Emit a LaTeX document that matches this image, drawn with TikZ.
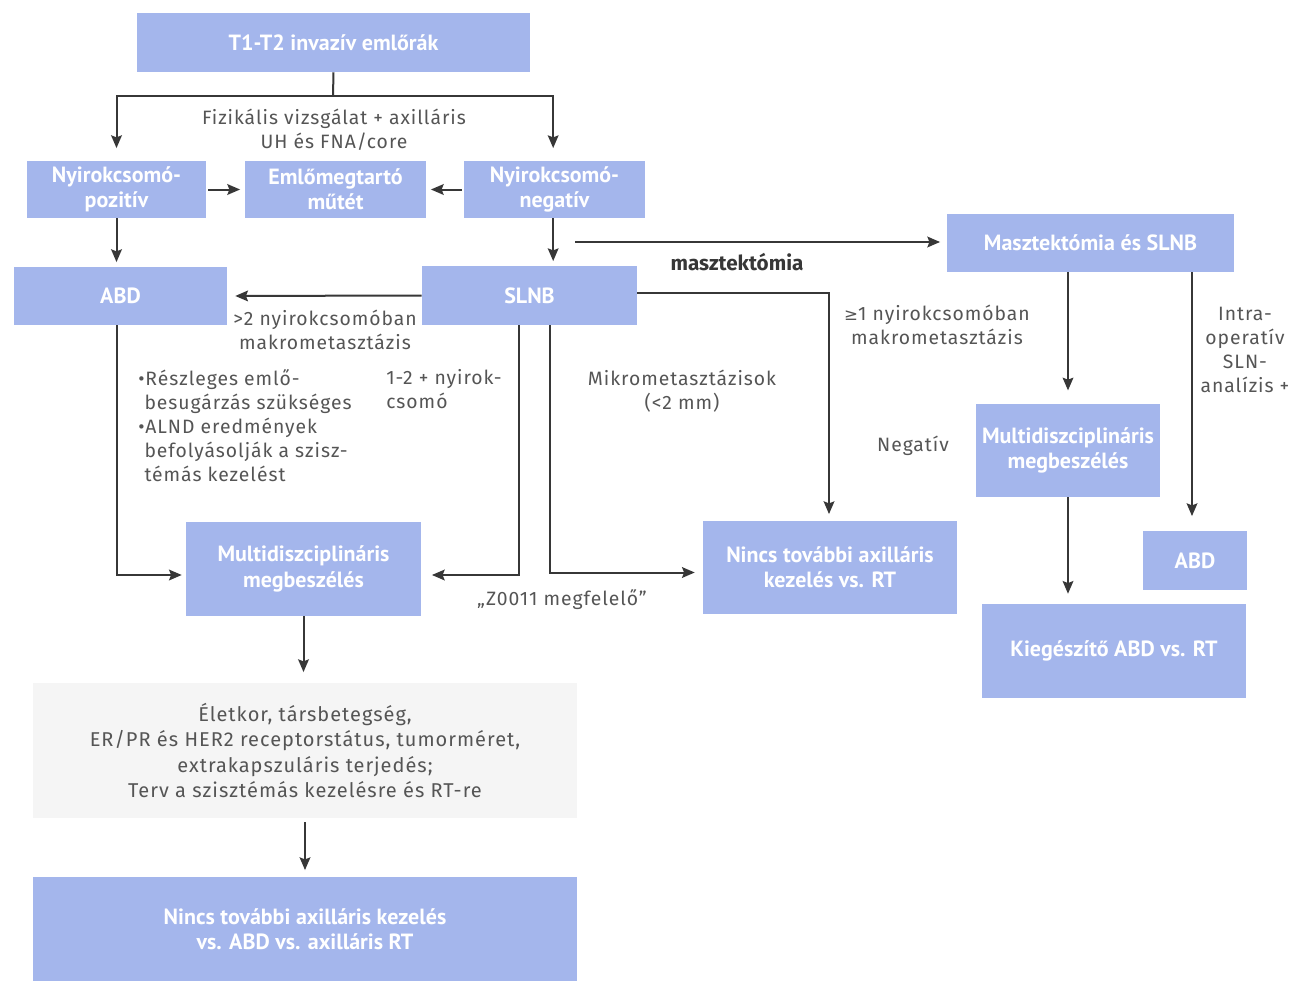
\documentclass[tikz,border=0pt]{standalone}
\usepackage{fontspec}
\setmainfont{Fira Sans}
\newfontfamily\lblfont[LetterSpace=5]{Fira Sans}
\newfontfamily\boxfont{PT Sans}
\newfontfamily\symfont{DejaVu Sans}
\usetikzlibrary{arrows.meta}
\definecolor{boxblue}{RGB}{164,182,236}
\definecolor{palegray}{RGB}{245,245,245}
\definecolor{linecol}{RGB}{55,55,55}
\definecolor{txtcol}{RGB}{85,85,85}
\begin{document}
\begin{tikzpicture}[x=0.75pt,y=-0.75pt,
  bx/.style 2 args={minimum width=#1*0.75pt, minimum height=#2*0.75pt},
  box/.style={fill=boxblue, text=white, inner sep=0pt, align=center,
    font=\boxfont\fontsize{16.5}{19}\selectfont\bfseries},
  graybox/.style={fill=palegray, text=txtcol, inner sep=0pt, align=center,
    font=\lblfont\fontsize{15}{19}\selectfont},
  lbl/.style={text=txtcol, inner sep=0pt, font=\lblfont\fontsize{14.5}{18}\selectfont},
  conn/.style={draw=linecol, line width=1.5pt},
  arr/.style={conn, -{Stealth[length=9.5pt,width=8pt,inset=1.5pt]}},
]
\useasboundingbox (0,0) rectangle (1300,981);
\fill[white] (0,0) rectangle (1300,981);

% boxes
\node[box, bx={393}{59}] (t1) at (333.5,42.5) {T1-T2 invazív emlőrák};
\node[box, bx={179}{57}] (pos) at (116.5,189.5) {Nyirokcsomó-\\pozitív};
\node[box, bx={181}{57}] (bct) at (335.5,189.5) {Emlőmegtartó\\műtét};
\node[box, bx={181}{57}] (neg) at (554.5,189.5) {Nyirokcsomó-\\negatív};
\node[box, bx={213}{58}] (abd) at (120.5,296) {ABD};
\node[box, bx={215}{59}] (slnb) at (529.5,295.5) {SLNB};
\node[box, bx={287}{58}] (mast) at (1090.5,243) {Masztektómia és SLNB};
\node[box, bx={184}{93}] (multiR) at (1068,450.5) {Multidiszciplináris\\megbeszélés};
\node[box, bx={104}{59}] (abdR) at (1195,560.5) {ABD};
\node[box, bx={264}{94}] (kieg) at (1114,651) {Kiegészítő ABD vs. RT};
\node[box, bx={254}{93}] (nincsR) at (830,567.5) {Nincs további axilláris\\kezelés vs. RT};
\node[box, bx={235}{94}] (multiL) at (303.5,569) {Multidiszciplináris\\megbeszélés};
\node[graybox, bx={544}{135}] (elet) at (305,750.5) {Életkor, társbetegség,\\ER/PR és HER2 receptorstátus, tumorméret,\\extrakapszuláris terjedés;\\Terv a szisztémás kezelésre és RT-re};
\node[box, bx={544}{104}] (final) at (305,929) {Nincs további axilláris kezelés\\vs. ABD vs. axilláris RT};

% connectors
\coordinate (j) at (333,96);
\draw[conn] (t1.south) -- (j);
\draw[arr, shorten >=9.5pt] (j) -| (pos.north);
\draw[arr, shorten >=9.5pt] (j) -| ([xshift=-1pt]neg.north);
\draw[arr, shorten <=1.5pt, shorten >=3.5pt] (pos.east) -- (bct.west);
\draw[arr, shorten <=1.5pt, shorten >=3.5pt] (neg.west) -- (bct.east);
\draw[arr, shorten >=3.5pt] (pos.south) -- (pos.south |- abd.north);
\draw[arr, shorten >=3.5pt] ([xshift=-1pt]neg.south) -- ([xshift=-1pt]neg.south |- slnb.north);
\coordinate (ms) at (575,242);
\draw[arr, shorten >=5pt] (ms) -- (ms -| mast.west);
\draw[arr, shorten >=6pt] (slnb.west) -- (abd.east);
\draw[arr, shorten >=5pt] ([yshift=2pt]slnb.east) -| ([xshift=-0.75pt]nincsR.north);
\draw[arr, shorten >=10pt] (mast.south -| multiR.north) -- (multiR.north);
\draw[arr, shorten >=11pt] ([xshift=-2.25pt]mast.south -| abdR.north) -- ([xshift=-2.25pt]abdR.north);
\draw[arr, shorten >=7.5pt] (multiR.south) -- (multiR.south |- kieg.north);
\draw[arr, shorten >=8pt] ([xshift=-7.9pt]slnb.south) |- ([yshift=-4.5pt]multiL.east);
\draw[arr, shorten >=6pt] ([xshift=15.4pt]slnb.south) |- ([yshift=-3.75pt]nincsR.west);
\draw[arr, shorten >=3pt] ([xshift=-2.6pt]abd.south) |- ([yshift=-4.5pt]multiL.west);
\draw[arr, shorten >=8pt] (multiL.south) -- (multiL.south |- elet.north);
\draw[arr, shorten <=3pt, shorten >=5pt] (elet.south) -- (elet.south |- final.north);

% labels
\node[lbl, align=center] (l1) at (334,130) {Fizikális vizsgálat + axilláris\\UH és FNA/core};
\node[inner sep=0pt, text=linecol, font=\fontsize{15.5}{18}\selectfont\bfseries] (l2) at (737,262) {masztektómia};
\node[lbl, align=center] (l3) at (325,330) {>2 nyirokcsomóban\\makrometasztázis};
\node[lbl, align=center] (l4) at (937,325) {{\symfont\fontsize{12.5}{18}\selectfont ≥}1 nyirokcsomóban\\makrometasztázis};
\node[lbl, align=center] (l5) at (1245,350) {Intra-\\operatív\\SLN-\\analízis +};
\node[lbl] (l6) at (913,446) {Negatív};
\node[lbl, align=center] (l7) at (682,391) {Mikrometasztázisok\\(<2 mm)};
\node[lbl, align=left, anchor=north west] (l8) at (386,369) {1-2 + nyirok-\\csomó};
\node[lbl, align=left, anchor=north west] (l9) at (138,369) {•Részleges emlő-\\\hphantom{•}besugárzás szükséges\\•ALND eredmények\\\hphantom{•}befolyásolják a szisz-\\\hphantom{•}témás kezelést};
\node[lbl] (l10) at (562,600) {„Z0011 megfelelő”};
\end{tikzpicture}
\end{document}
